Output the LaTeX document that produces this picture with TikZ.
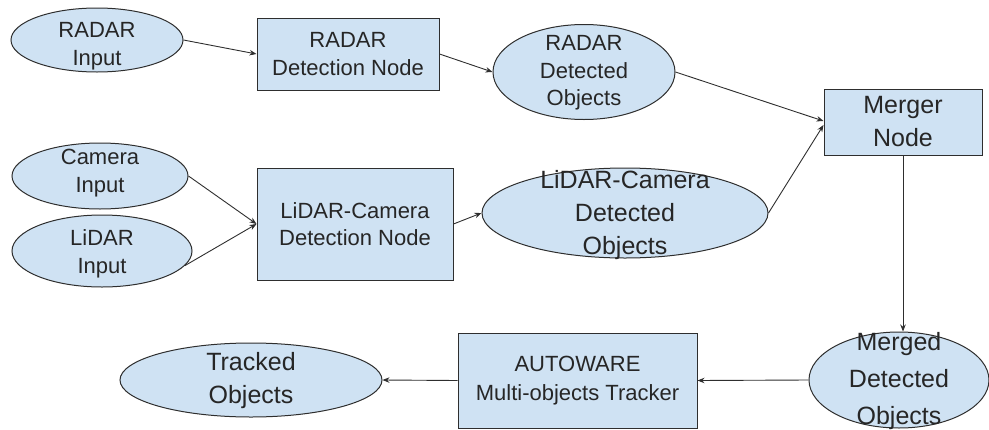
\documentclass[tikz,border=0pt]{standalone}
\usepackage{fontspec}
\setmainfont{Liberation Sans}
\usetikzlibrary{shapes.geometric,arrows.meta}
\definecolor{boxfill}{HTML}{CFE2F3}
\definecolor{edge}{HTML}{2E2E2E}
\begin{document}
\begin{tikzpicture}[x=1pt,y=-1pt,
  oval/.style={ellipse, draw=edge, fill=boxfill, line width=1pt, inner sep=0pt},
  block/.style={rectangle, draw=edge, fill=boxfill, line width=1pt, inner sep=0pt},
  lbl/.style={align=center, inner sep=0pt, text=black!85, font=\fontsize{22}{27.5}\selectfont},
  biglbl/.style={lbl, font=\fontsize{25}{33}\selectfont},
  flow/.style={draw=edge, line width=0.9pt, -{Stealth[length=7pt,width=5.5pt]}}]
\useasboundingbox (0,0) rectangle (989,429);

% shapes
\node[oval, minimum width=172pt, minimum height=64pt] (rin) at (97,40) {};
\node[lbl] (rinT) at (97,46) {RADAR\\Input};

\node[block, minimum width=182pt, minimum height=72pt] (rdet) at (348,54) {};
\node[lbl] (rdetT) at (rdet) {RADAR\\Detection Node};

\node[oval, minimum width=182pt, minimum height=95pt] (rdo) at (584,72) {};
\node[lbl] (rdoT) at (584,73) {RADAR\\Detected\\Objects};

\node[oval, minimum width=176pt, minimum height=66pt] (cam) at (100,176) {};
\node[lbl] (camT) at (100,173) {Camera\\Input};

\node[oval, minimum width=180pt, minimum height=72pt] (lid) at (102,251) {};
\node[lbl] (lidT) at (102,254) {LiDAR\\Input};

\node[block, minimum width=196pt, minimum height=112pt] (lcdet) at (355,224) {};
\node[lbl] (lcdetT) at (lcdet) {LiDAR-Camera\\Detection Node};

\node[oval, minimum width=286pt, minimum height=90pt] (lcdo) at (625,213) {};
\node[biglbl] (lcdoT) at (625,215) {LiDAR-Camera\\Detected\\Objects};

\node[block, minimum width=158pt, minimum height=66pt] (merger) at (903,122) {};
\node[biglbl] (mergerT) at (merger) {Merger\\Node};

\node[oval, minimum width=180pt, minimum height=96pt] (merged) at (899,380) {};
\node[lbl, font=\fontsize{25}{37}\selectfont] (mergedT) at (899,381) {Merged\\Detected\\Objects};

\node[block, minimum width=239pt, minimum height=95pt] (auto) at (577.5,380.5) {};
\node[lbl, font=\fontsize{22}{29}\selectfont] (autoT) at (auto) {AUTOWARE\\Multi-objects Tracker};

\node[oval, minimum width=262pt, minimum height=74pt] (tracked) at (251,380) {};
\node[biglbl] (trackedT) at (251,381) {Tracked\\Objects};

% connectors
\draw[flow] (rin.east) -- (rdet.west);
\draw[flow] (rdet.east) -- (rdo.west);
\draw[flow] (cam.east) -- (lcdet.west);
\draw[flow] (lid.-10) -- (lcdet.west);
\draw[flow] (lcdet.east) -- (lcdo.west);
\draw[flow] (rdo.east) -- ([yshift=1pt]merger.west);
\draw[flow] (lcdo.east) -- ([yshift=-3pt]merger.west);
\draw[flow] (merger.south) -- (merger.south |- merged.north);
\draw[flow] (merged.west) -- (auto.east);
\draw[flow] (auto.west) -- (tracked.east);
\end{tikzpicture}
\end{document}
